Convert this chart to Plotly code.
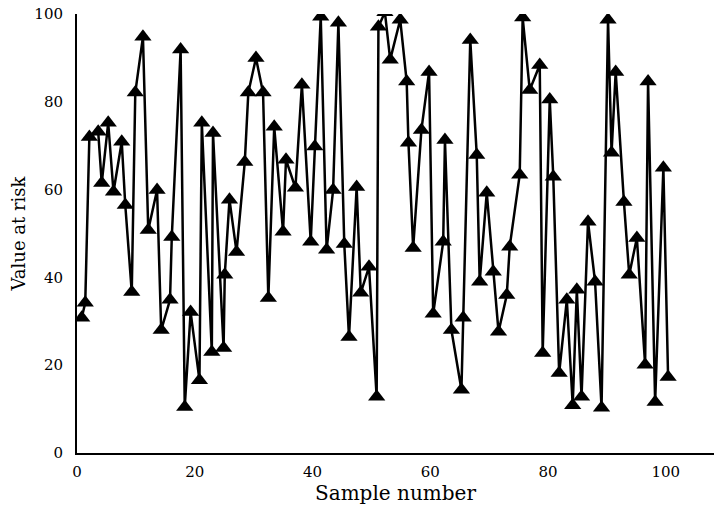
import plotly.graph_objects as go

sample_number = [0.8, 1.4, 2.1, 3.6, 4.2, 5.3, 6.2, 7.6, 8.2, 9.3,
                 9.9, 11.2, 12.1, 13.6, 14.3, 15.8, 16.1, 17.6, 18.3, 19.3,
                 20.8, 21.2, 22.9, 23.1, 24.9, 25.1, 25.9, 27.1, 28.5, 29.1,
                 30.4, 31.6, 32.5, 33.5, 35.0, 35.5, 37.1, 38.2, 39.7, 40.4,
                 41.4, 42.4, 43.5, 44.4, 45.4, 46.2, 47.5, 48.2, 49.6, 50.9,
                 51.2, 52.3, 53.2, 54.9, 56.0, 56.3, 57.1, 58.5, 59.8, 60.5,
                 62.2, 62.5, 63.6, 65.3, 65.6, 66.8, 67.9, 68.4, 69.6, 70.7,
                 71.6, 73.0, 73.5, 75.2, 75.7, 76.9, 78.6, 79.1, 80.3, 80.9,
                 81.9, 83.2, 84.2, 84.9, 85.7, 86.8, 88.0, 89.1, 90.2, 90.8,
                 91.5, 92.9, 93.8, 95.1, 96.5, 97.0, 98.2, 99.6, 100.4]

value_at_risk = [30.8, 34.2, 72.0, 73.2, 61.5, 75.2, 59.5, 70.9, 56.5, 36.7,
                 82.1, 94.8, 50.8, 59.9, 28.0, 34.9, 49.2, 91.9, 10.5, 32.1,
                 16.6, 75.2, 23.0, 72.9, 23.9, 40.6, 57.7, 45.8, 66.3, 82.1,
                 90.0, 82.1, 35.3, 74.3, 50.4, 66.8, 60.4, 83.9, 48.1, 69.8,
                 99.4, 46.3, 59.9, 98.0, 47.6, 26.4, 60.6, 36.5, 42.4, 12.8,
                 97.1, 100.4, 89.6, 98.7, 84.6, 70.7, 46.7, 73.6, 86.8, 31.7,
                 48.1, 71.3, 28.0, 14.4, 30.8, 94.1, 67.9, 39.0, 59.3, 41.3,
                 27.6, 36.0, 47.0, 63.4, 99.2, 82.7, 88.4, 22.8, 80.5, 62.9,
                 18.2, 34.9, 10.9, 37.2, 12.8, 52.7, 39.0, 10.3, 98.7, 68.4,
                 86.8, 57.2, 40.6, 49.0, 20.1, 84.6, 11.6, 65.0, 17.3]

x_ticks = [0, 20, 40, 60, 80, 100]
y_ticks = [0, 20, 40, 60, 80, 100]

fig = go.Figure()
fig.add_trace(go.Scatter(
    x=sample_number, y=value_at_risk, mode="lines+markers",
    line=dict(color="black", width=2.5),
    marker=dict(symbol="triangle-up", size=15, color="black"),
    showlegend=False, cliponaxis=True,
))

font_family = "DejaVu Serif"
fig.update_layout(
    width=714, height=508,
    margin=dict(l=77, r=0, t=14, b=55),
    paper_bgcolor="white", plot_bgcolor="white",
    font=dict(family=font_family, color="black", size=15),
)
fig.update_xaxes(
    range=[0, 108.2], tickvals=x_ticks, ticktext=[str(v) for v in x_ticks],
    showgrid=False, zeroline=False, showline=True, linecolor="black", linewidth=2,
    ticks="", tickfont=dict(size=15, family=font_family), automargin=False,
    ticklabelstandoff=4,
    title=dict(text="Sample number", font=dict(size=20, family=font_family), standoff=0),
)
fig.update_yaxes(
    range=[0, 100], tickvals=y_ticks, ticktext=[str(v) for v in y_ticks],
    showgrid=False, zeroline=False, showline=True, linecolor="black", linewidth=2,
    ticks="", tickfont=dict(size=15, family=font_family), automargin=False,
    ticklabelstandoff=9,
    title=dict(text="Value at risk", font=dict(size=18, family=font_family), standoff=4),
)

fig.write_html(
    "out.html",
    config={"displayModeBar": False},
    post_script="document.body.style.margin='0';document.body.style.overflow='hidden';",
)
